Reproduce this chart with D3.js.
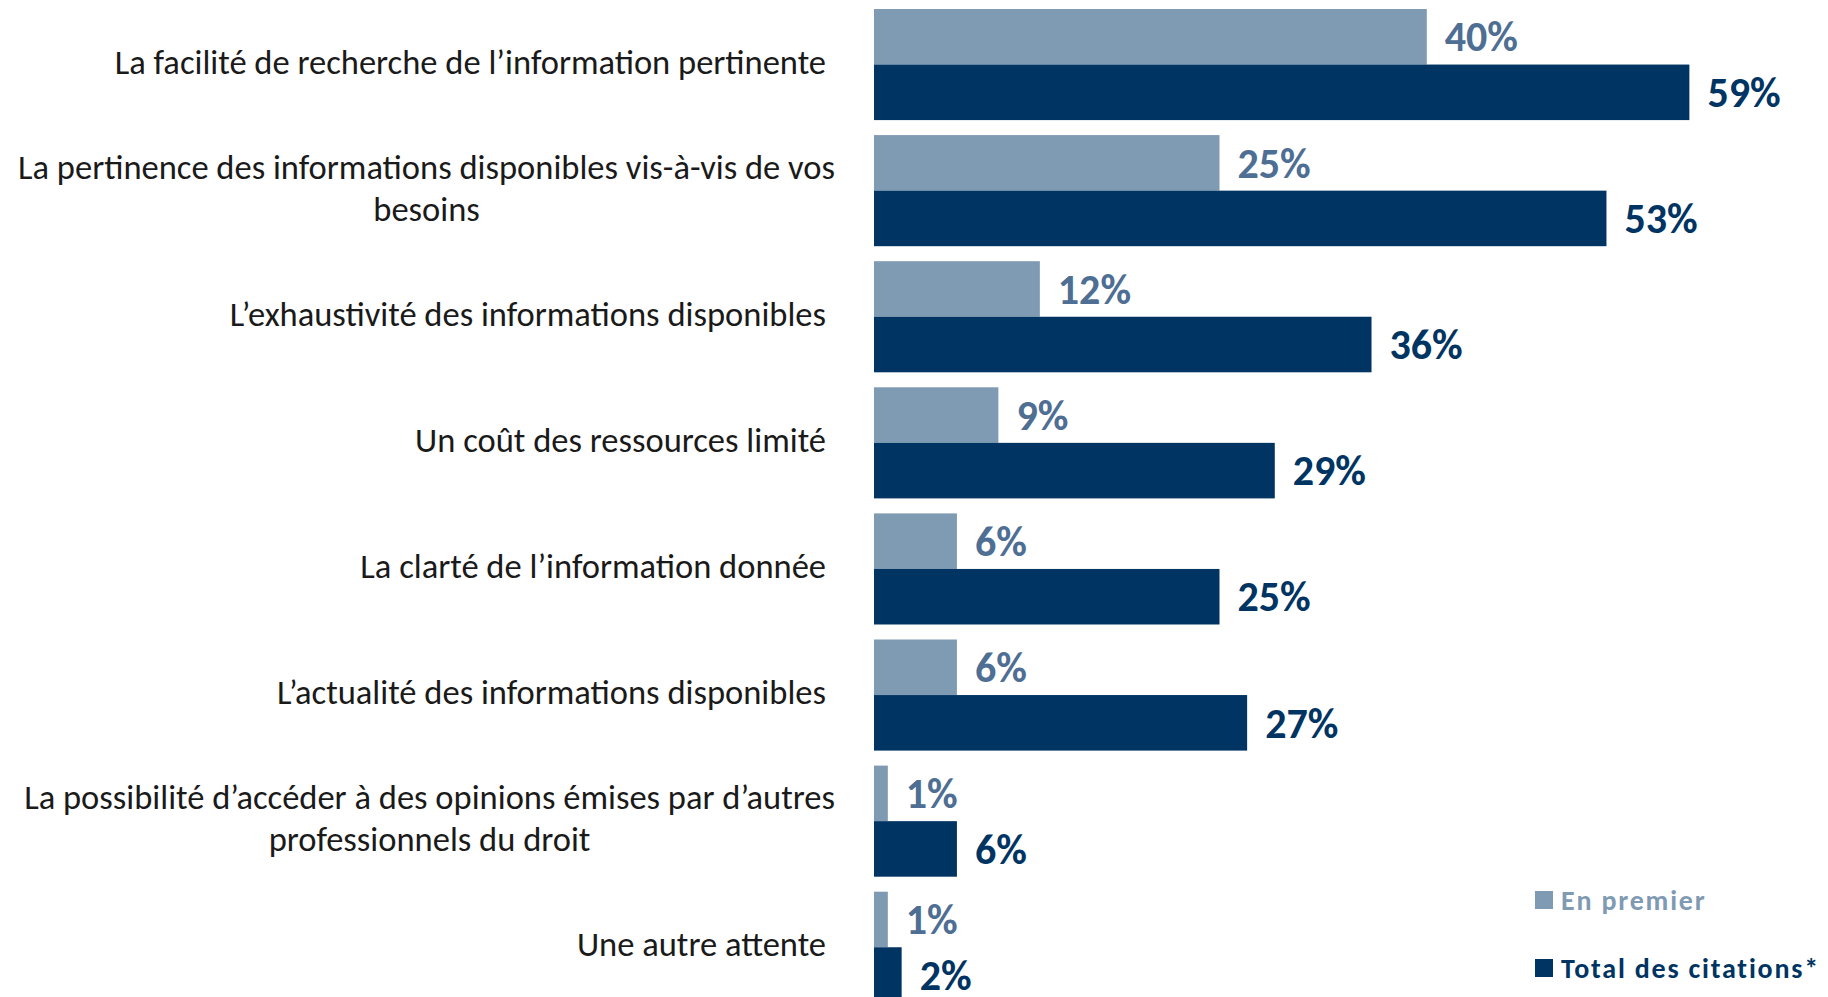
<!DOCTYPE html>
<html>
<head>
<meta charset="utf-8">
<script src="https://cdn.jsdelivr.net/npm/d3@7"></script>
<style>
    html, body { margin: 0; padding: 0; background: #ffffff; }
    svg { display: block; }
</style>
</head>
<body>
<div id="chart"></div>
<script>
// categories, each one split in its display lines
const categories = [
    ["La facilité de recherche de l’information pertinente"],
    ["La pertinence des informations disponibles vis-à-vis de vos", "besoins"],
    ["L’exhaustivité des informations disponibles"],
    ["Un coût des ressources limité"],
    ["La clarté de l’information donnée"],
    ["L’actualité des informations disponibles"],
    ["La possibilité d’accéder à des opinions émises par d’autres", "professionnels du droit"],
    ["Une autre attente"]
];
const enPremier = [40, 25, 12, 9, 6, 6, 1, 1];
const totalCitations = [59, 53, 36, 29, 25, 27, 6, 2];
const seriesNames = ["En premier", "Total des citations*"];

const colors = ["#7f9ab3", "#003462"];
const labelColors = ["#4e6e93", "#003462"];
const font = "Carlito, Calibri, Lato, 'Open Sans', sans-serif";

const width = 1828;
const height = 997;

const svg = d3.select("#chart")
    .append("svg")
    .attr("width", width)
    .attr("height", height)
    .style("font-family", font);

svg.append("rect")
    .attr("width", width)
    .attr("height", height)
    .attr("fill", "#ffffff");

// scales
const x = d3.scaleLinear()
    .domain([0, 100])
    .range([874, 874 + 1382]);

const y = d3.scaleBand()
    .domain(d3.range(categories.length))
    .range([9, 9 + 8 * 126.1 - 15])
    .paddingInner(0.119)
    .paddingOuter(0);

const ySeries = d3.scaleBand()
    .domain([0, 1])
    .range([0, y.bandwidth()])
    .padding(0);

const rows = categories.map((c, i) => ({
    lines: c,
    values: [enPremier[i], totalCitations[i]],
    index: i
}));

const group = svg.selectAll(".group")
    .data(rows)
    .enter()
    .append("g")
    .attr("class", "group")
    .attr("transform", d => "translate(0," + y(d.index) + ")");

// bars
group.selectAll("rect")
    .data(d => d.values.map((v, s) => ({ v: v, s: s })))
    .enter()
    .append("rect")
    .attr("x", x(0))
    .attr("y", d => ySeries(d.s))
    .attr("width", d => x(d.v) - x(0))
    .attr("height", ySeries.bandwidth())
    .attr("fill", d => colors[d.s]);

// value labels
group.selectAll(".value")
    .data(d => d.values.map((v, s) => ({ v: v, s: s })))
    .enter()
    .append("text")
    .attr("class", "value")
    .attr("x", d => x(d.v) + 18)
    .attr("y", d => ySeries(d.s) + ySeries.bandwidth() / 2)
    .attr("dy", "0.35em")
    .attr("font-size", 42)
    .attr("font-weight", 700)
    .attr("fill", d => labelColors[d.s])
    .text(d => d.v + "%");

// category labels: right aligned block, wrapped lines centered on each other
const lineHeight = 42;
const labelRight = 826;
const wrapRight = 835;
const catLabel = group.append("text")
    .attr("class", "category")
    .attr("font-size", 34.5)
    .attr("fill", "#1a1a1a");

catLabel.each(function (d) {
    const t = d3.select(this);
    const n = d.lines.length;
    const cy = y.bandwidth() / 2 - 3;
    d.lines.forEach((line, k) => {
        t.append("tspan")
            .attr("y", cy + (k - (n - 1) / 2) * lineHeight)
            .attr("dy", "0.35em")
            .text(line);
    });
    if (n === 1) {
        t.attr("text-anchor", "end");
        t.selectAll("tspan").attr("x", labelRight);
    } else {
        const widths = [];
        t.selectAll("tspan").each(function () { widths.push(this.getComputedTextLength()); });
        const maxW = d3.max(widths);
        t.attr("text-anchor", "middle");
        t.selectAll("tspan").attr("x", wrapRight - maxW / 2);
    }
});

// legend
const legend = svg.selectAll(".legend")
    .data(seriesNames)
    .enter()
    .append("g")
    .attr("class", "legend")
    .attr("transform", (d, i) => "translate(1535," + (900 + i * 68) + ")");

legend.append("rect")
    .attr("x", 0)
    .attr("y", -9)
    .attr("width", 18)
    .attr("height", 18)
    .attr("fill", (d, i) => colors[i]);

legend.append("text")
    .attr("x", 26)
    .attr("y", 0)
    .attr("dy", "0.35em")
    .attr("font-size", 28)
    .attr("font-weight", 700)
    .attr("letter-spacing", 1.8)
    .attr("fill", (d, i) => colors[i])
    .text(d => d);
</script>
</body>
</html>
